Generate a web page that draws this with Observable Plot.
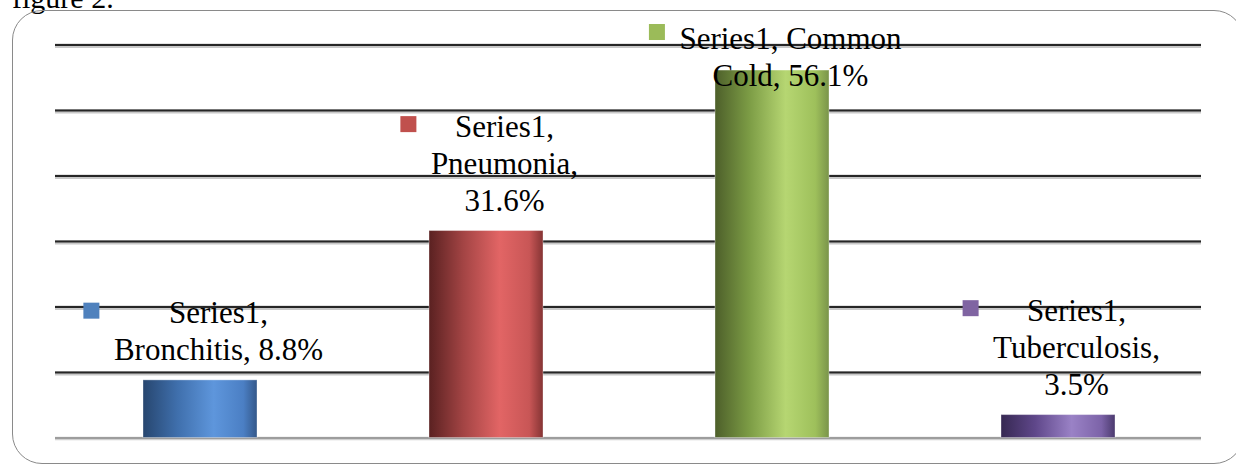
<!DOCTYPE html>
<html><head><meta charset="utf-8">
<script src="https://cdn.jsdelivr.net/npm/d3@7"></script>
<script src="https://cdn.jsdelivr.net/npm/@observablehq/plot@0.6"></script>
<style>
html,body{margin:0;padding:0;background:#fff;overflow:hidden;}
#wrap{position:relative;width:1236px;height:465px;overflow:hidden;background:#fff;}
#title{position:absolute;left:12px;top:-19px;font:30px "Liberation Serif",serif;color:#000;white-space:nowrap;}
#frame{position:absolute;left:12px;top:10px;width:1232px;height:454px;border:1.5px solid #8a8a8a;border-radius:30px;box-sizing:border-box;}
#chart{position:absolute;left:0;top:0;}
</style></head><body>
<div id="wrap"><div id="title">figure 2.</div><div id="frame"></div><div id="chart"></div></div>
<script>
// ---- data ----
const seriesName = "Series1";
const categories = ["Bronchitis", "Pneumonia", "Common Cold", "Tuberculosis"];
const values = [8.8, 31.6, 56.1, 3.5];
const labelLines = [
  ["Series1,", "Bronchitis, 8.8%"],
  ["Series1,", "Pneumonia,", "31.6%"],
  ["Series1, Common", "Cold, 56.1%"],
  ["Series1,", "Tuberculosis,", "3.5%"]
];
const keyColors = ["#4f81bd", "#c0504d", "#9bbb59", "#8064a2"];
const barStops = [
  ["#27466f", "#3f6fac", "#5e96dc", "#4b7fc4", "#34588a"],
  ["#5a2121", "#a34444", "#e26565", "#c85656", "#853434"],
  ["#4d5f2a", "#7c9c45", "#b6d672", "#9ec05b", "#7a944a"],
  ["#362852", "#5f478a", "#9a82c6", "#7c63a8", "#4b3a6e"]
];
const gridTicks = [10, 20, 30, 40, 50, 60];

// ---- layout constants ----
const W = 1236, H = 465;
const mTop = 44.5, mBottom = 27.5, mLeft = 55, mRight = 35;
const fontSize = 31, lineH = 1.2;
const labelGap = 20;

const data = categories.map((c, i) => ({
  category: c, value: values[i], text: labelLines[i].join("\n"),
  lines: labelLines[i], color: keyColors[i], idx: i
}));

const pxPerUnit = (H - mTop - mBottom) / 60;
function isClamped(d) {
  const barTop = H - mBottom - d.value * pxPerUnit;
  const labelTop = barTop - labelGap - (d.lines.length - 1) * fontSize * lineH - 22;
  return labelTop < mTop - 22;
}
const normal = data.filter(d => !isClamped(d));
const clamped = data.filter(d => isClamped(d));

const ctx = document.createElement("canvas").getContext("2d");
ctx.font = `${fontSize}px "Liberation Serif"`;
const textDx = 18;

function defsMark() {
  const g = d3.create("svg:g");
  const defs = g.append("defs");
  barStops.forEach((stops, i) => {
    const lg = defs.append("linearGradient").attr("id", "bar" + i)
      .attr("x1", "0").attr("x2", "1").attr("y1", "0").attr("y2", "0");
    [0, 0.3, 0.62, 0.88, 1].forEach((o, k) =>
      lg.append("stop").attr("offset", o).attr("stop-color", stops[k]));
  });
  return g.node();
}

function keyMark(index, scales) {
  const sx = scales.x, sy = scales.y;
  const bw = typeof sx.bandwidth === "function" ? sx.bandwidth()
    : (scales.scales && scales.scales.x && scales.scales.x.bandwidth) || 114;
  const g = d3.create("svg:g");
  data.forEach(d => {
    const cx = sx(d.category) + bw / 2 + textDx;
    const maxW = d3.max(d.lines, l => ctx.measureText(l).width);
    let firstBase;
    if (isClamped(d)) firstBase = mTop - 22.5 + 0.71 * fontSize;
    else firstBase = sy(d.value) - labelGap - (d.lines.length - 1) * fontSize * lineH;
    g.append("rect")
      .attr("x", cx - maxW / 2 - 14 - 16)
      .attr("y", firstBase - 20)
      .attr("width", 16).attr("height", 16)
      .attr("fill", d.color);
  });
  return g.node();
}

const chart = Plot.plot({
  width: W, height: H,
  marginTop: mTop, marginBottom: mBottom, marginLeft: mLeft, marginRight: mRight,
  x: {domain: categories, range: [57, 1201], paddingInner: 0.6, paddingOuter: 0.3, axis: null},
  y: {domain: [0, 60], axis: null},
  style: {fontFamily: "Liberation Serif", background: "transparent", overflow: "visible"},
  marks: [
    defsMark,
    Plot.ruleY(gridTicks, {stroke: "#c8c8c8", strokeWidth: 4.5, dy: 0.8}),
    Plot.ruleY(gridTicks, {stroke: "#262626", strokeWidth: 2}),
    Plot.ruleY([0], {stroke: "#d0d0d0", strokeWidth: 3.5, dy: 0.5}),
    Plot.ruleY([0], {stroke: "#8c8c8c", strokeWidth: 1.5}),
    ...data.map(d => Plot.barY([d], {x: "category", y: "value", fill: `url(#bar${d.idx})`, stroke: "#ffffff", strokeOpacity: 0.35, strokeWidth: 1})),
    Plot.text(normal, {x: "category", y: "value", text: "text", lineAnchor: "bottom", lineHeight: lineH,
      dx: textDx, dy: -labelGap, fontSize: fontSize, fill: "#000", textAnchor: "middle"}),
    Plot.text(clamped, {x: "category", frameAnchor: "top", text: "text", lineAnchor: "top", lineHeight: lineH,
      dx: textDx, dy: -22.5, fontSize: fontSize, fill: "#000", textAnchor: "middle"}),
    keyMark
  ]
});
document.getElementById("chart").appendChild(chart);
</script>
</body></html>
